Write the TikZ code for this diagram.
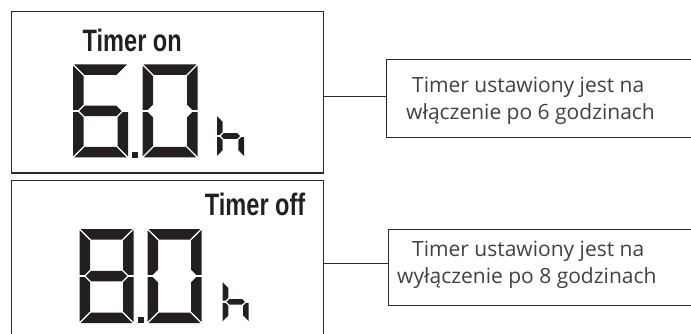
\documentclass[tikz,border=0pt]{standalone}
\usepackage{fontspec}
\usepackage{graphicx}
\setmainfont{Open Sans}
\newfontfamily\lcdfont{Liberation Sans}
\definecolor{lcdink}{HTML}{231F20}
\definecolor{descink}{HTML}{414042}
\definecolor{frameink}{HTML}{2B2B2B}
\newcommand\segA{\fill[lcdink] ({\sS},0) -- ({\sW-\sS},0) -- ({\sW-\sT-\sS},{\sT}) -- ({\sT+\sS},{\sT}) -- cycle;}
\newcommand\segD{\fill[lcdink] ({\sS},{\sH}) -- ({\sW-\sS},{\sH}) -- ({\sW-\sT-\sS},{\sH-\sT}) -- ({\sT+\sS},{\sH-\sT}) -- cycle;}
\newcommand\segF{\fill[lcdink] (0,{\sS}) -- ({\sT},{\sT+\sS}) -- ({\sT},{\sH/2-\sT/2-\sS}) -- ({\sT/2},{\sH/2-\sS}) -- (0,{\sH/2-\sS}) -- cycle;}
\newcommand\segB{\fill[lcdink] ({\sW},{\sS}) -- ({\sW-\sT},{\sT+\sS}) -- ({\sW-\sT},{\sH/2-\sT/2-\sS}) -- ({\sW-\sT/2},{\sH/2-\sS}) -- ({\sW},{\sH/2-\sS}) -- cycle;}
\newcommand\segE{\fill[lcdink] (0,{\sH-\sS}) -- ({\sT},{\sH-\sT-\sS}) -- ({\sT},{\sH/2+\sT/2+\sS}) -- ({\sT/2},{\sH/2+\sS}) -- (0,{\sH/2+\sS}) -- cycle;}
\newcommand\segC{\fill[lcdink] ({\sW},{\sH-\sS}) -- ({\sW-\sT},{\sH-\sT-\sS}) -- ({\sW-\sT},{\sH/2+\sT/2+\sS}) -- ({\sW-\sT/2},{\sH/2+\sS}) -- ({\sW},{\sH/2+\sS}) -- cycle;}
\newcommand\segG{\fill[lcdink] ({\sT/2+\sS},{\sH/2}) -- ({\sT+\sS},{\sH/2-\sT/2}) -- ({\sW-\sT-\sS},{\sH/2-\sT/2}) -- ({\sW-\sT/2-\sS},{\sH/2}) -- ({\sW-\sT-\sS},{\sH/2+\sT/2}) -- ({\sT+\sS},{\sH/2+\sT/2}) -- cycle;}
\newcommand\lcddigit[6]{\begin{scope}[shift={(#1,#2)}]\def\sW{#3}\def\sH{#4}\def\sT{#5}\def\sS{1.1}#6\end{scope}}
\begin{document}
\begin{tikzpicture}[x=1pt,y=-1pt,
  lcdbox/.style={draw=frameink, line width=1.1pt, inner sep=0pt, rectangle},
  descbox/.style={draw=frameink, line width=0.9pt, inner sep=0pt, rectangle},
  conn/.style={draw=frameink, line width=0.9pt},
  desctext/.style={font=\fontsize{21}{27}\selectfont, text=descink, inner sep=0pt, align=left},
  lcdlabel/.style={font=\lcdfont\bfseries\fontsize{31}{31}\selectfont, text=lcdink, inner sep=0pt}]
\useasboundingbox (0,0) rectangle (691,334);
\clip (0,0) rectangle (691,334);
% LCD frames
\node[lcdbox, anchor=north west, minimum width=311.5pt, minimum height=161.5pt] (lcd1) at (11,11) {};
\node[lcdbox, anchor=north west, minimum width=311.5pt, minimum height=170pt] (lcd2) at (11,180) {};
% description boxes
\node[descbox, anchor=north west, minimum width=310pt, minimum height=78pt] (t1) at (386,59) {};
\node[descbox, anchor=north west, minimum width=308pt, minimum height=76pt] (t2) at (388,229) {};
% connectors
\coordinate (c1) at ([yshift=2pt]t1.west);
\coordinate (c2) at ([yshift=4pt]t2.west);
\draw[conn] (c1) -- (c1 -| lcd1.east);
\draw[conn] (c2) -- (c2 -| lcd2.east);
% labels
\node[lcdlabel, anchor=base west] (lab1) at (82.5,51.7) {\scalebox{0.76}[1]{Timer on}};
\node[lcdlabel, anchor=base east] (lab2) at (305.5,215) {\scalebox{0.76}[1]{Timer off}};
\node[desctext, anchor=north west] (t1txt) at (406,77) {\hspace*{6pt}Timer ustawiony jest na\\włączenie po 6 godzinach};
\node[desctext, anchor=north west] (t2txt) at (397,241) {\hspace*{15pt}Timer ustawiony jest na\\wyłączenie po 8 godzinach};
% top display 6.0 h
\lcddigit{73}{64.5}{55}{93}{10.5}{\segA\segF\segG\segE\segC\segD}
\lcddigit{142.5}{64.5}{55}{93}{10.5}{\segA\segB\segC\segD\segE\segF}
\fill[lcdink] (131.5,152) rectangle ++(6.5,6.5);
\lcddigit{217}{115}{27}{42}{5.6}{\segF\segE\segG\segC}
% bottom display 8.0 h
\lcddigit{79.5}{229}{54}{94}{10.5}{\segA\segB\segC\segD\segE\segF\segG}
\lcddigit{147.5}{229}{54}{94}{10.5}{\segA\segB\segC\segD\segE\segF}
\fill[lcdink] (138,316.5) rectangle ++(6.3,6.3);
\lcddigit{222.7}{281.3}{26}{41}{5.6}{\segF\segE\segG\segC}
\end{tikzpicture}
\end{document}
